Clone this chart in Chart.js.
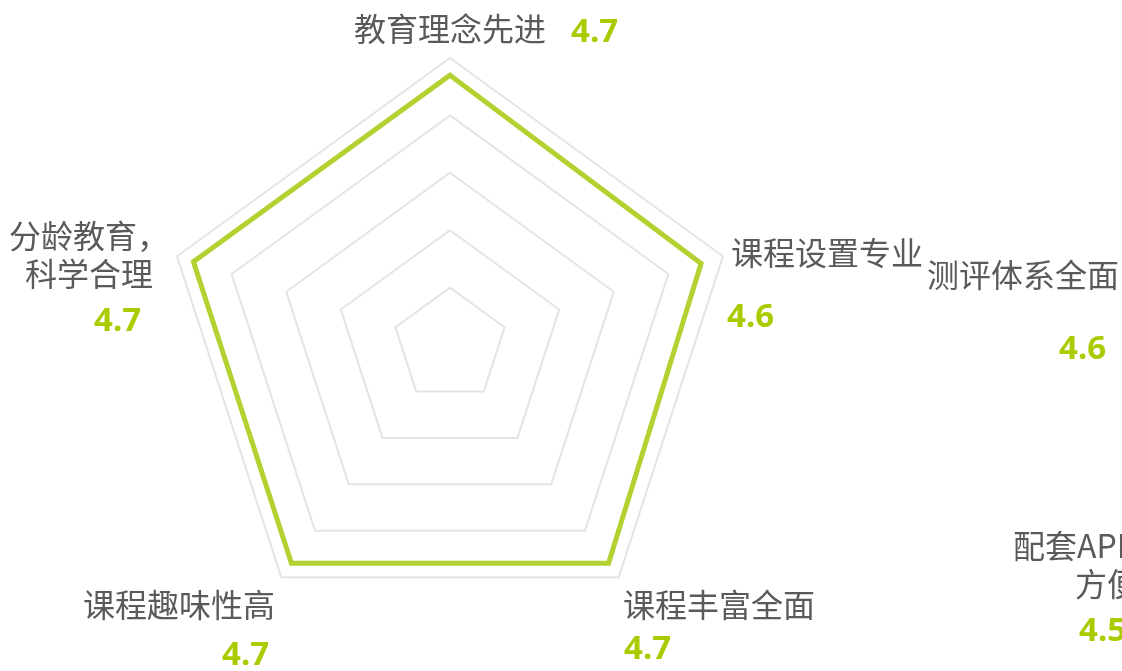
<!DOCTYPE html>
<html>
<head>
<meta charset="utf-8">
<script src="https://cdn.jsdelivr.net/npm/chart.js@4"></script>
<style>
  html, body { margin: 0; padding: 0; background: #fff; }
  html { overflow: hidden; }
</style>
</head>
<body>
<canvas id="radar" width="1122" height="671" style="width:1122px;height:671px;display:block"></canvas>
<script>
// axis names and scores
const labels = ["教育理念先进", "课程设置专业", "课程丰富全面", "课程趣味性高", ["分龄教育，", "科学合理"]];
const scores = [4.7, 4.6, 4.7, 4.7, 4.7];
// two more items that sit outside the radar
const extraLabels = ["测评体系全面", ["配套APP使用", "方便"]];
const extraScores = [4.6, 4.5];

const GREEN = "#b3d232";
const NUM_GREEN = "#abcb00";
const GRAY = "#5a5a5a";
const FONT = "'Noto Sans CJK SC', 'Noto Sans', sans-serif";

// where each label / number goes (canvas px)
const labelPos = [[450, 29], [827, 253], [719, 605], [179, 605], [89, 236]];
const valuePos = [[571, 33], [727, 318], [624, 650], [222, 656], [94, 322]];
const extraLabelPos = [[1023, 275], [1107, 546]];
const extraValuePos = [[1059, 350], [1079, 632]];

function drawName(ctx, text, x, y) {
  const lines = Array.isArray(text) ? text : [text];
  lines.forEach((t, i) => ctx.fillText(t, x, y + i * 38));
}

const labelPlugin = {
  id: "scoreLabels",
  afterDraw(chart) {
    const ctx = chart.ctx;
    ctx.save();
    ctx.textBaseline = "middle";
    ctx.font = "32px " + FONT;
    ctx.fillStyle = GRAY;
    ctx.textAlign = "center";
    labels.forEach((l, i) => drawName(ctx, l, labelPos[i][0], labelPos[i][1]));
    extraLabels.forEach((l, i) => drawName(ctx, l, extraLabelPos[i][0], extraLabelPos[i][1]));

    ctx.font = "bold 33px 'Noto Sans', sans-serif";
    ctx.fillStyle = NUM_GREEN;
    ctx.textAlign = "left";
    scores.forEach((v, i) => ctx.fillText(v.toFixed(1), valuePos[i][0], valuePos[i][1]));
    extraScores.forEach((v, i) => ctx.fillText(v.toFixed(1), extraValuePos[i][0], extraValuePos[i][1]));
    ctx.restore();
  }
};

new Chart(document.getElementById("radar"), {
  type: "radar",
  data: {
    labels: labels,
    datasets: [{
      data: scores,
      borderColor: GREEN,
      borderWidth: 5,
      borderJoinStyle: "miter",
      fill: false,
      pointRadius: 0,
      pointHoverRadius: 0
    }]
  },
  options: {
    responsive: false,
    animation: false,
    layout: { padding: { left: 163, right: 385, top: 58, bottom: 39 } },
    plugins: { legend: { display: false }, tooltip: { enabled: false } },
    scales: {
      r: {
        min: 0,
        max: 5,
        ticks: { stepSize: 1, display: false },
        grid: { color: "#e4e4e4", lineWidth: 2 },
        angleLines: { display: false },
        pointLabels: { display: false }
      }
    }
  },
  plugins: [labelPlugin]
});
</script>
</body>
</html>
